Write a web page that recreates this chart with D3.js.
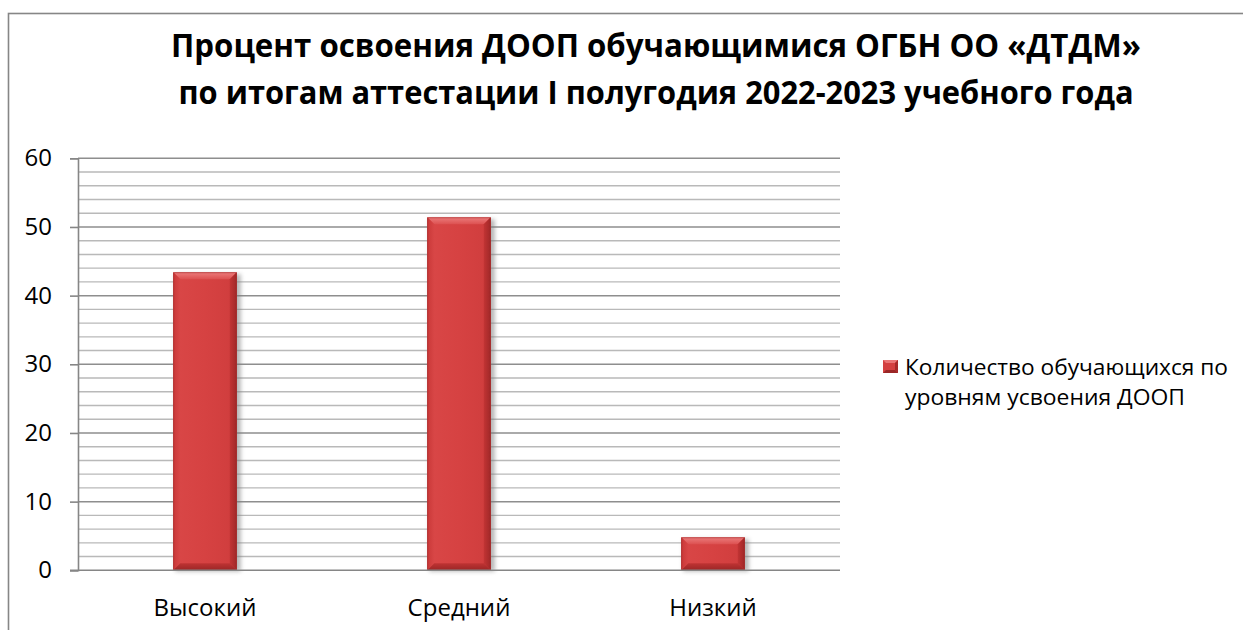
<!DOCTYPE html>
<html>
<head>
<meta charset="utf-8">
<script src="https://cdn.jsdelivr.net/npm/d3@7"></script>
<style>
  html, body { margin: 0; padding: 0; background: #fff; }
  svg { display: block; }
  text { font-family: "Open Sans", "Noto Sans", sans-serif; fill: #000; }
</style>
</head>
<body>
<svg id="chart" width="1243" height="630"></svg>
<script>
// ---- data ----
const categories = ["Высокий", "Средний", "Низкий"];
const values = [43.4, 51.4, 4.8];
const seriesName = ["Количество обучающихся по", "уровням усвоения ДООП"];
const titleLines = ["Процент освоения ДООП обучающимися ОГБН ОО «ДТДМ»",
                    "по итогам аттестации I полугодия 2022-2023 учебного года"];
const yMajorTicks = [0, 10, 20, 30, 40, 50, 60];
const yMinorTicks = d3.range(0, 61, 2);

// ---- layout ----
const W = 1243, H = 630;
const plot = { left: 78, right: 840, top: 158.3, bottom: 570.3 };

const svg = d3.select("#chart");
const defs = svg.append("defs");

function lin(id, x2, y2, stops) {
  const g = defs.append("linearGradient").attr("id", id)
    .attr("x1", 0).attr("y1", 0).attr("x2", x2).attr("y2", y2);
  stops.forEach(s => g.append("stop").attr("offset", s[0]).attr("stop-color", s[1]));
}
lin("face", 1, 0, [[0, "#d94747"], [0.5, "#d64242"], [1, "#cf3d3d"]]);
lin("topBevel", 0, 1, [[0, "#ec7c7c"], [1, "#dc5050"]]);
lin("leftBevel", 1, 0, [[0, "#c93838"], [1, "#d84646"]]);
lin("rightBevel", 1, 0, [[0, "#c23434"], [1, "#a02828"]]);
lin("bottomBevel", 0, 1, [[0, "#bf3333"], [1, "#9a2626"]]);
const blur = defs.append("filter").attr("id", "shadow")
  .attr("x", "-20%").attr("y", "-20%").attr("width", "150%").attr("height", "140%");
blur.append("feGaussianBlur").attr("stdDeviation", 2.2);

// frame
svg.append("rect")
  .attr("x", 8.5).attr("y", 13.5).attr("width", W + 20).attr("height", H + 20)
  .attr("fill", "none").attr("stroke", "#868686").attr("stroke-width", 1.6);

// scales
const x = d3.scaleBand().domain(categories)
  .range([plot.left, plot.right]).paddingInner(0.75).paddingOuter(0.375);
const y = d3.scaleLinear().domain([0, 60]).range([plot.bottom, plot.top]);

// gridlines
const grid = svg.append("g");
grid.selectAll("line.minor").data(yMinorTicks.filter(t => t % 10 !== 0)).join("line")
  .attr("class", "minor")
  .attr("x1", plot.left).attr("x2", plot.right)
  .attr("y1", d => y(d)).attr("y2", d => y(d))
  .attr("stroke", "#b9b9b9").attr("stroke-width", 1.4);
grid.selectAll("line.major").data(yMajorTicks.filter(t => t !== 0)).join("line")
  .attr("class", "major")
  .attr("x1", plot.left).attr("x2", plot.right)
  .attr("y1", d => y(d)).attr("y2", d => y(d))
  .attr("stroke", "#8e8e8e").attr("stroke-width", 1.5);

// y axis
const yAxis = d3.axisLeft(y).tickValues(yMajorTicks).tickSize(8).tickPadding(18)
  .tickFormat(d3.format("d"));
const gy = svg.append("g").attr("transform", `translate(${plot.left},0)`).call(yAxis);
gy.select(".domain").attr("stroke", "#868686").attr("stroke-width", 1.6);
gy.selectAll(".tick line").attr("stroke", "#868686").attr("stroke-width", 1.6);
gy.selectAll(".tick text").style("font-size", "24px").attr("fill", "#000")
  .style("font-family", '"Open Sans", sans-serif');

// bars
const bevel = 7;
const bars = svg.append("g").selectAll("g.bar").data(values.map((v, i) => ({ v, c: categories[i] })))
  .join("g").attr("class", "bar");
bars.each(function (d) {
  const g = d3.select(this);
  const x0 = x(d.c), x1 = x(d.c) + x.bandwidth();
  const y0 = y(d.v), y1 = y(0);
  const b = Math.min(bevel, (y1 - y0) / 3);
  g.append("rect").attr("x", x0 + 2).attr("y", y0 + 2).attr("width", x1 - x0 + 2).attr("height", y1 - y0 - 1)
    .attr("fill", "#7a7a7a").attr("opacity", 0.55).attr("filter", "url(#shadow)");
  g.append("rect").attr("x", x0).attr("y", y0).attr("width", x1 - x0).attr("height", y1 - y0)
    .attr("fill", "url(#face)");
  const poly = (pts, fill) => g.append("polygon").attr("points", pts.map(p => p.join(",")).join(" ")).attr("fill", fill);
  poly([[x0, y0], [x1, y0], [x1 - b, y0 + b], [x0 + b, y0 + b]], "url(#topBevel)");
  poly([[x0, y0], [x0 + b, y0 + b], [x0 + b, y1 - b], [x0, y1]], "url(#leftBevel)");
  poly([[x1, y0], [x1, y1], [x1 - b, y1 - b], [x1 - b, y0 + b]], "url(#rightBevel)");
  poly([[x0, y1], [x1, y1], [x1 - b, y1 - b], [x0 + b, y1 - b]], "url(#bottomBevel)");
  g.append("rect").attr("x", x0 + 0.5).attr("y", y0 + 0.5).attr("width", x1 - x0 - 1).attr("height", y1 - y0 - 1)
    .attr("fill", "none").attr("stroke", "#9e2a2a").attr("stroke-width", 0.8).attr("opacity", 0.7);
});

// x axis
const xAxis = d3.axisBottom(x).tickSize(0).tickPadding(29);
const gx = svg.append("g").attr("transform", `translate(0,${plot.bottom})`).call(xAxis);
gx.select(".domain").attr("stroke", "#868686").attr("stroke-width", 1.6)
  .attr("d", `M${plot.left - 8},0H${plot.right}`);
gx.selectAll(".tick text").style("font-size", "24px").attr("fill", "#000")
  .style("font-family", '"Open Sans", sans-serif').attr("dy", "0.71em");

// title
const titleCenter = 656;
const tY = [57, 104];
const tW = [970, 955];
titleLines.forEach((t, i) => {
  svg.append("text").attr("x", titleCenter).attr("y", tY[i])
    .attr("text-anchor", "middle").style("font-weight", "bold").style("font-size", "32px")
    .attr("textLength", tW[i]).attr("lengthAdjust", "spacingAndGlyphs").text(t);
});

// legend
const lg = svg.append("g");
const mx = 883, my = 360, mw = 15, mh = 13, mb = 3;
lg.append("rect").attr("x", mx).attr("y", my).attr("width", mw).attr("height", mh).attr("fill", "#d44141");
lg.append("polygon").attr("points", `${mx},${my} ${mx + mw},${my} ${mx + mw - mb},${my + mb} ${mx + mb},${my + mb}`).attr("fill", "#ea7676");
lg.append("polygon").attr("points", `${mx + mw},${my} ${mx + mw},${my + mh} ${mx + mw - mb},${my + mh - mb} ${mx + mw - mb},${my + mb}`).attr("fill", "#a82a2a");
lg.append("polygon").attr("points", `${mx},${my + mh} ${mx + mw},${my + mh} ${mx + mw - mb},${my + mh - mb} ${mx + mb},${my + mh - mb}`).attr("fill", "#9a2626");
const legW = [323, 280];
seriesName.forEach((s, i) => lg.append("text").attr("x", 905).attr("y", [375, 405][i])
  .style("font-size", "22px").attr("textLength", legW[i]).attr("lengthAdjust", "spacingAndGlyphs").text(s));
</script>
</body>
</html>
